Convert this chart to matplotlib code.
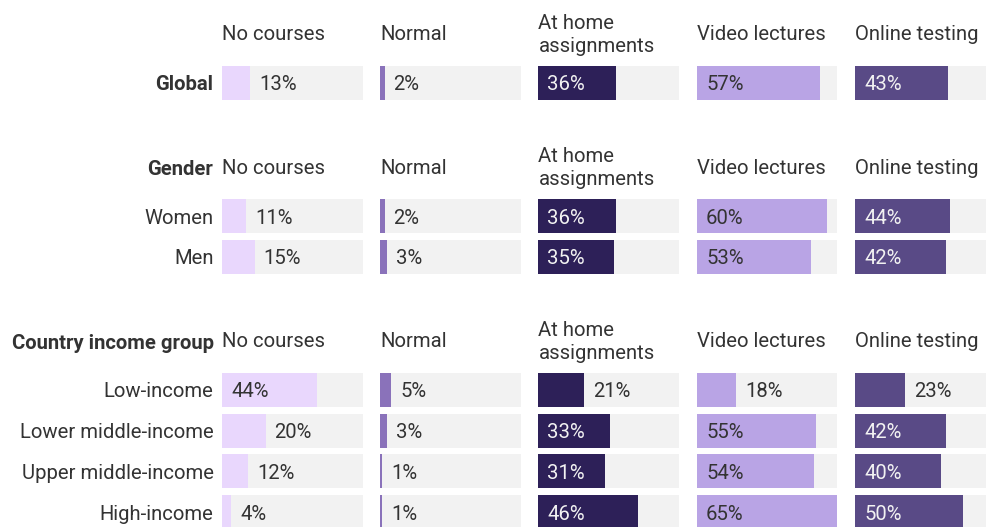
import matplotlib
matplotlib.use("Agg")
import matplotlib.pyplot as plt

plt.rcParams['font.family'] = ['Roboto', 'DejaVu Sans']

# ---- data ----
columns = ["No courses", "Normal", "At home\nassignments", "Video lectures", "Online testing"]
row_labels = ["Global", "Women", "Men", "Low-income", "Lower middle-income",
              "Upper middle-income", "High-income"]
group_titles = ["Global", "Gender", "Country income group"]
group_sizes = [1, 2, 4]

no_courses = [13, 11, 15, 44, 20, 12, 4]
normal = [2, 2, 3, 5, 3, 1, 1]
at_home = [36, 36, 35, 21, 33, 31, 46]
video_lectures = [57, 60, 53, 18, 55, 54, 65]
online_testing = [43, 44, 42, 23, 42, 40, 50]
series = [no_courses, normal, at_home, video_lectures, online_testing]

# ---- style ----
colors = ["#E9D7FD", "#8A72BA", "#2D2058", "#B9A4E5", "#594A86"]
inside_text = ["#333333", "#333333", "#F2F2F2", "#333333", "#F2F2F2"]
bg_color = "#F2F2F2"
text_color = "#333333"
FS = 14.6

W, H = 986, 527
fig = plt.figure(figsize=(W / 100, H / 100), dpi=100)

# layout (pixels)
col_left = [222.3, 380.2, 538.4, 697.0, 855.0]
col_width = 140.4
xmax = 65
row_step = 40.8
header_to_row = 50
group_gap = 83
bar_h = 34

# compute vertical positions
header_y = []
row_y = []
y = 33
for gi, n in enumerate(group_sizes):
    header_y.append(y)
    y += header_to_row
    for k in range(n):
        row_y.append(y)
        if k < n - 1:
            y += row_step
    y += group_gap

# label axes over whole figure
lab = fig.add_axes([0, 0, 1, 1])
lab.set_xlim(0, W)
lab.set_ylim(H, 0)
lab.axis("off")

label_x = 213.5
ri = 0
for gi, n in enumerate(group_sizes):
    if gi == 0:
        lab.text(label_x, row_y[0], group_titles[0], ha="right", va="center_baseline",
                 fontsize=FS, fontweight="bold", color=text_color)
        ri += 1
    else:
        lab.text(label_x, header_y[gi] + 1.5, group_titles[gi], ha="right",
                 va="center_baseline", fontsize=FS, fontweight="bold", color=text_color)
        for k in range(n):
            lab.text(label_x, row_y[ri], row_labels[ri], ha="right", va="center_baseline",
                     fontsize=FS, color=text_color)
            ri += 1

pad = 9 / 100 * 72  # points
for ci, (name, vals) in enumerate(zip(columns, series)):
    ax = fig.add_axes([col_left[ci] / W, 0, col_width / W, 1])
    ax.set_xlim(0, xmax)
    ax.set_ylim(H, 0)
    ax.axis("off")
    ax.barh(row_y, [xmax] * len(row_y), height=bar_h, left=0, color=bg_color, zorder=1)
    ax.barh(row_y, vals, height=bar_h, left=0, color=colors[ci], zorder=2)
    for hy in header_y:
        ax.text(0, hy + 2, name, ha="left", va="center", fontsize=FS, color=text_color,
                linespacing=1.25)
    for yy, v in zip(row_y, vals):
        if v >= 25:
            ax.annotate(f"{v}%", (0, yy), xytext=(pad, 0), textcoords="offset points",
                        ha="left", va="center_baseline", fontsize=FS, color=inside_text[ci],
                        zorder=3)
        else:
            ax.annotate(f"{v}%", (v, yy), xytext=(pad, 0), textcoords="offset points",
                        ha="left", va="center_baseline", fontsize=FS, color=text_color,
                        zorder=3)

fig.savefig("out.png", dpi=100)
